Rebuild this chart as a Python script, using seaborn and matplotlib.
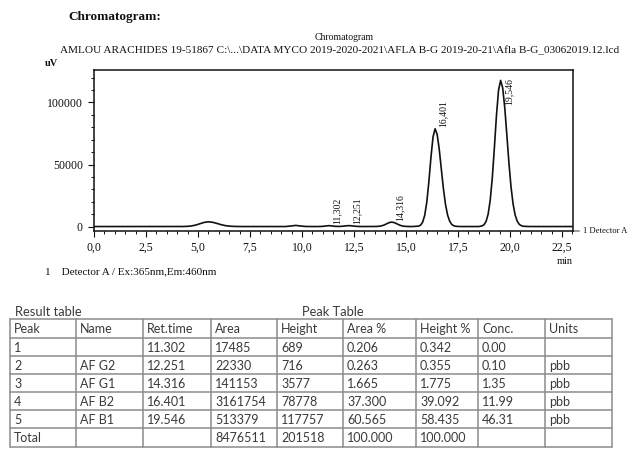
import matplotlib
matplotlib.use('Agg')
import matplotlib.pyplot as plt
import seaborn as sns
import pandas as pd
from matplotlib.ticker import MultipleLocator, FixedLocator

# --- chromatogram trace (time in min, signal in uV) ---
trace_time = [0.0, 4.3, 4.5, 4.7, 4.9, 5.1, 5.3, 5.5, 5.7, 5.9, 6.1, 6.3, 6.5, 6.8, 7.2,
              9.2, 9.45, 9.7, 9.95, 10.2, 10.5,
              10.8, 11.0, 11.15, 11.3, 11.45, 11.6, 11.8, 11.9, 12.0, 12.1, 12.25, 12.4, 12.55, 12.75, 13.0,
              13.6, 13.8, 13.95, 14.1, 14.2, 14.32, 14.45, 14.6, 14.75, 14.9, 15.1, 15.3,
              15.6, 15.7, 15.8, 15.9, 16.0, 16.1, 16.2, 16.3, 16.4, 16.5, 16.6, 16.7, 16.8, 16.9,
              17.0, 17.1, 17.2, 17.3, 17.4, 17.6,
              18.5, 18.65, 18.75, 18.85, 18.95, 19.05, 19.15, 19.25, 19.35, 19.45, 19.55, 19.65,
              19.75, 19.85, 19.95, 20.05, 20.15, 20.25, 20.35, 20.45, 20.55, 20.65, 20.9, 21.2, 23.0]
trace_signal = [0, 30, 170, 510, 1230, 2300, 3350, 3800, 3440, 2560, 1560, 780, 320, 60, 0,
                0, 400, 900, 400, 50, 0,
                10, 145, 465, 689, 470, 145, 82, 177, 350, 555, 716, 555, 260, 40, 0,
                60, 430, 1220, 2460, 3210, 3577, 3100, 1880, 790, 230, 30, 0,
                300, 1100, 3500, 9000, 19600, 36100, 55700, 72200, 78800, 74200, 62100, 46200, 30400, 17800,
                9300, 4300, 1700, 600, 200, 0,
                0, 460, 1460, 4090, 9970, 21200, 39300, 63500, 89500, 110000, 117800, 111700,
                95600, 73700, 51200, 32000, 18100, 9200, 4200, 1700, 650, 200, 30, 0, 0]

# --- peak table ---
col_headers = ['Peak', 'Name', 'Ret.time', 'Area', 'Height', 'Area %', 'Height %', 'Conc.', 'Units']
peak_no = ['1', '2', '3', '4', '5', 'Total']
peak_name = ['', 'AF G2', 'AF G1', 'AF B2', 'AF B1', '']
ret_time = [11.302, 12.251, 14.316, 16.401, 19.546]
area = ['17485', '22330', '141153', '3161754', '513379', '8476511']
height = [689, 716, 3577, 78778, 117757]
height_total = 201518
area_pct = ['0.206', '0.263', '1.665', '37.300', '60.565', '100.000']
height_pct = ['0.342', '0.355', '1.775', '39.092', '58.435', '100.000']
conc = ['0.00', '0.10', '1.35', '11.99', '46.31', '']
units = ['', 'pbb', 'pbb', 'pbb', 'pbb', '']

x_ticks = [0.0, 2.5, 5.0, 7.5, 10.0, 12.5, 15.0, 17.5, 20.0, 22.5]
x_tick_labels = ['0,0', '2,5', '5,0', '7,5', '10,0', '12,5', '15,0', '17,5', '20,0', '22,5']
y_ticks = [0, 50000, 100000]

W, H = 634, 449


def fx(x):
    return x / W


def fy(y):
    return 1 - y / H


sns.set_style('ticks')
plt.rcParams['font.family'] = ['Liberation Serif', 'DejaVu Serif']
ink = '#111111'

fig = plt.figure(figsize=(W / 100, H / 100), dpi=100)

# --- chromatogram panel ---
ax = fig.add_axes([fx(94), fy(231), fx(573) - fx(94), fy(70) - fy(231)])
trace = pd.DataFrame({'time': trace_time, 'signal': trace_signal})
sns.lineplot(data=trace, x='time', y='signal', ax=ax, color=ink, lw=1.2,
             sort=False, estimator=None)
ax.set_xlim(0, 23.03)
ax.set_ylim(-3600, 126200)
ax.set_xlabel('')
ax.set_ylabel('')
ax.xaxis.set_major_locator(FixedLocator(x_ticks))
ax.set_xticklabels(x_tick_labels)
ax.xaxis.set_minor_locator(MultipleLocator(0.5))
ax.yaxis.set_major_locator(FixedLocator(y_ticks))
ax.set_yticklabels([str(v) for v in y_ticks])
ax.yaxis.set_minor_locator(MultipleLocator(10000))
ax.tick_params(which='major', direction='out', length=4, width=0.8, labelsize=8.5,
               colors=ink, pad=4)
ax.tick_params(which='minor', direction='out', length=2.5, width=0.7, colors=ink)
for s in ax.spines.values():
    s.set_visible(True)
    s.set_linewidth(1.1)
    s.set_color(ink)

# retention time labels next to each apex
for t, h in zip(ret_time, height):
    lab = f'{t:.3f}'.replace('.', ',')
    if h > 100000:
        ax.annotate(lab, xy=(t, h), xytext=(2.5, 1.5), textcoords='offset points',
                    rotation=90, ha='left', va='top', fontsize=7, color=ink)
    else:
        ax.annotate(lab, xy=(t, h), xytext=(2.5, 1), textcoords='offset points',
                    rotation=90, ha='left', va='bottom', fontsize=7, color=ink)

ax.annotate('1 Detector A', xy=(1.0, 0.0), xycoords='axes fraction',
            xytext=(7, 0), textcoords='offset points', va='center', ha='left',
            fontsize=6.2, color=ink,
            arrowprops=dict(arrowstyle='-', lw=0.6, color=ink, shrinkA=0, shrinkB=0))

# header texts around the chromatogram
fig.text(fx(68), fy(17), 'Chromatogram:', fontsize=9.5, fontweight='bold', color=ink,
         va='center', ha='left')
fig.text(fx(344), fy(38), 'Chromatogram', fontsize=7, color=ink, va='center', ha='center')
fig.text(fx(60), fy(51),
         'AMLOU ARACHIDES 19-51867 C:\\...\\DATA MYCO 2019-2020-2021\\AFLA B-G 2019-20-21\\Afla B-G_03062019.12.lcd',
         fontsize=8.1, color=ink, va='center', ha='left')
fig.text(fx(45), fy(63), 'uV', fontsize=7.5, fontweight='bold', color=ink, va='center', ha='left')
fig.text(fx(565), fy(262), 'min', fontsize=7.5, color=ink, va='center', ha='center')
fig.text(fx(45), fy(272), '1    Detector A / Ex:365nm,Em:460nm', fontsize=8, color=ink,
         va='center', ha='left')

# --- result table ---
tab_font = ['Lato', 'DejaVu Sans']
tcol = '#3a3a3a'
fig.text(fx(15), fy(312), 'Result table', fontsize=9.3, color=tcol, family=tab_font,
         va='center', ha='left')
fig.text(fx(333), fy(312), 'Peak Table', fontsize=9.3, color=tcol, family=tab_font,
         va='center', ha='center')

col_x = [10, 76, 143, 211, 277, 343, 416, 478, 545, 612]
row_y = [319, 338, 356, 374, 392, 410, 428, 447]

tax = fig.add_axes([0, 0, 1, 1])
tax.set_xlim(0, W)
tax.set_ylim(H, 0)
tax.axis('off')
for x in col_x:
    tax.plot([x, x], [row_y[0], row_y[-1]], color='#8c8c8c', lw=1.1)
for y in row_y:
    tax.plot([col_x[0], col_x[-1]], [y, y], color='#8c8c8c', lw=1.1)

rows = [col_headers]
for i in range(6):
    rt = f'{ret_time[i]:.3f}' if i < 5 else ''
    ht = str(height[i]) if i < 5 else str(height_total)
    rows.append([peak_no[i], peak_name[i], rt, area[i], ht,
                 area_pct[i], height_pct[i], conc[i], units[i]])

for r, row in enumerate(rows):
    yc = (row_y[r] + row_y[r + 1]) / 2 + 0.5
    for c, txt in enumerate(row):
        tax.text(col_x[c] + 4, yc, txt, fontsize=9, color=tcol, family=tab_font,
                 va='center', ha='left')

fig.savefig('out.png', dpi=100)
